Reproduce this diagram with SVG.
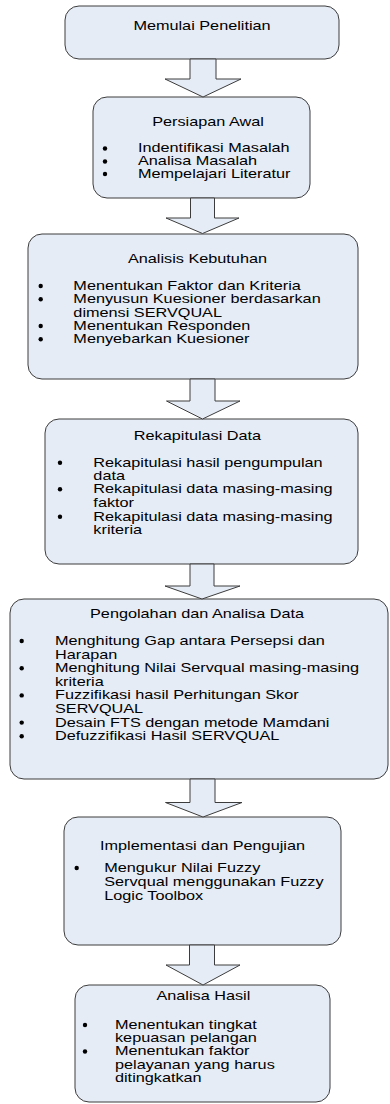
<svg xmlns="http://www.w3.org/2000/svg" width="390" height="1104" viewBox="0 0 390 1104">
<style>
.box{fill:#e6ecf6;stroke:#3c3c3c;stroke-width:1}
.arr{fill:#e6ecf6;stroke:#3c3c3c;stroke-width:1;stroke-linejoin:miter}
.t{font-family:"Liberation Sans",Arial,sans-serif;font-size:13px;fill:#000}
.c{text-anchor:middle}
.b{fill:#000}
</style>
<rect width="390" height="1104" fill="#ffffff"/>
<g id="n1">
<rect class="box" x="65" y="6" width="274" height="53" rx="14"/>
<g transform="scale(1.25,1)"><text class="t c" x="161.6" y="30">Memulai Penelitian</text></g>
</g>
<g id="n2">
<rect class="box" x="93" y="97" width="217" height="101" rx="14"/>
<circle class="b" cx="105" cy="148.5" r="2.2"/><circle class="b" cx="105" cy="161.5" r="2.2"/><circle class="b" cx="105" cy="174" r="2.2"/>
<g transform="scale(1.25,1)">
<text class="t c" x="166.4" y="126">Persiapan Awal</text>
<text class="t" x="110.4" y="152.5">Indentifikasi Masalah</text>
<text class="t" x="110.4" y="165.5">Analisa Masalah</text>
<text class="t" x="110.4" y="178">Mempelajari Literatur</text>
</g>
</g>
<g id="n3">
<rect class="box" x="28" y="234" width="330" height="145" rx="14"/>
<circle class="b" cx="40.7" cy="286" r="2.2"/><circle class="b" cx="40.7" cy="299.3" r="2.2"/><circle class="b" cx="40.7" cy="326" r="2.2"/><circle class="b" cx="40.7" cy="339.3" r="2.2"/>
<g transform="scale(1.25,1)">
<text class="t c" x="158" y="263">Analisis Kebutuhan</text>
<text class="t" x="58.7" y="290">Menentukan Faktor dan Kriteria</text>
<text class="t" x="58.7" y="303.3">Menyusun Kuesioner berdasarkan</text>
<text class="t" x="58.7" y="316.7">dimensi SERVQUAL</text>
<text class="t" x="58.7" y="330">Menentukan Responden</text>
<text class="t" x="58.7" y="343.3">Menyebarkan Kuesioner</text>
</g>
</g>
<g id="n4">
<rect class="box" x="45" y="419" width="313" height="145" rx="14"/>
<circle class="b" cx="60" cy="462.7" r="2.2"/><circle class="b" cx="60" cy="489.3" r="2.2"/><circle class="b" cx="60" cy="516.7" r="2.2"/>
<g transform="scale(1.25,1)">
<text class="t c" x="158" y="440">Rekapitulasi Data</text>
<text class="t" x="74.7" y="466.7">Rekapitulasi hasil pengumpulan</text>
<text class="t" x="74.7" y="480">data</text>
<text class="t" x="74.7" y="493.3">Rekapitulasi data masing-masing</text>
<text class="t" x="74.7" y="507">faktor</text>
<text class="t" x="74.7" y="520.7">Rekapitulasi data masing-masing</text>
<text class="t" x="74.7" y="534">kriteria</text>
</g>
</g>
<g id="n5">
<rect class="box" x="10" y="599" width="378" height="180" rx="14"/>
<circle class="b" cx="21.7" cy="641" r="2.2"/><circle class="b" cx="21.7" cy="668.2" r="2.2"/><circle class="b" cx="21.7" cy="695.4" r="2.2"/><circle class="b" cx="21.7" cy="722.6" r="2.2"/><circle class="b" cx="21.7" cy="736.2" r="2.2"/>
<g transform="scale(1.25,1)">
<text class="t c" x="157.6" y="618">Pengolahan dan Analisa Data</text>
<text class="t" x="44" y="645">Menghitung Gap antara Persepsi dan</text>
<text class="t" x="44" y="658.6">Harapan</text>
<text class="t" x="44" y="672.2">Menghitung Nilai Servqual masing-masing</text>
<text class="t" x="44" y="685.8">kriteria</text>
<text class="t" x="44" y="699.4">Fuzzifikasi hasil Perhitungan Skor</text>
<text class="t" x="44" y="713">SERVQUAL</text>
<text class="t" x="44" y="726.6">Desain FTS dengan metode Mamdani</text>
<text class="t" x="44" y="740.2">Defuzzifikasi Hasil SERVQUAL</text>
</g>
</g>
<g id="n6">
<rect class="box" x="64" y="817" width="277" height="128" rx="14"/>
<circle class="b" cx="76.7" cy="868" r="2.2"/>
<g transform="scale(1.25,1)">
<text class="t c" x="162" y="850">Implementasi dan Pengujian</text>
<text class="t" x="83.4" y="872">Mengukur Nilai Fuzzy</text>
<text class="t" x="83.4" y="886">Servqual menggunakan Fuzzy</text>
<text class="t" x="83.4" y="900">Logic Toolbox</text>
</g>
</g>
<g id="n7">
<rect class="box" x="75" y="985" width="255" height="117" rx="14"/>
<circle class="b" cx="85" cy="1025" r="2.2"/><circle class="b" cx="85" cy="1051.5" r="2.2"/>
<g transform="scale(1.25,1)">
<text class="t c" x="162.7" y="1000">Analisa Hasil</text>
<text class="t" x="92" y="1029">Menentukan tingkat</text>
<text class="t" x="92" y="1042">kepuasan pelangan</text>
<text class="t" x="92" y="1055.5">Menentukan faktor</text>
<text class="t" x="92" y="1069">pelayanan yang harus</text>
<text class="t" x="92" y="1082">ditingkatkan</text>
</g>
</g>
<g id="connectors">
<polygon class="arr" points="190,59 216,59 216,79 241,79 203,97 165,79 190,79"/>
<polygon class="arr" points="190.5,198 214.5,198 214.5,218 239,218 202.5,233.5 166,218 190.5,218"/>
<polygon class="arr" points="190,379 215,379 215,401 240,401 202.5,419 166.5,401 190,401"/>
<polygon class="arr" points="190,564 214,564 214,586 240,586 202,599 165,586 190,586"/>
<polygon class="arr" points="190,779 215,779 215,802.5 242,802.5 203,817 165.5,802.5 190,802.5"/>
<polygon class="arr" points="189.5,945 214.5,945 214.5,965 240,965 203,985 166,965 189.5,965"/>
</g>
</svg>
